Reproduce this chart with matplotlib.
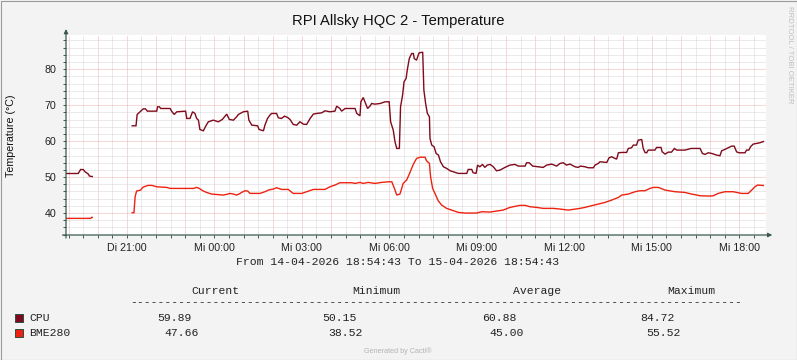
import matplotlib.pyplot as plt
from matplotlib.patches import Rectangle
from matplotlib.ticker import FixedLocator, FixedFormatter, NullFormatter

# time axis: hours since the start of the window (14-04-2026 18:54:43)
START_HOUR = 18 + 54 / 60 + 43 / 3600

title = "RPI Allsky HQC 2 - Temperature"
y_label = "Temperature (°C)"
period_text = "From 14-04-2026 18:54:43 To 15-04-2026 18:54:43"
x_tick_labels = ["Di 21:00", "Mi 00:00", "Mi 03:00", "Mi 06:00", "Mi 09:00", "Mi 12:00", "Mi 15:00", "Mi 18:00"]
x_tick_clock = [21, 24, 27, 30, 33, 36, 39, 42]
y_ticks = [40, 50, 60, 70, 80]

series_names = ["CPU", "BME280"]
stat_names = ["Current", "Minimum", "Average", "Maximum"]
cpu_stats = [59.89, 50.15, 60.88, 84.72]
bme_stats = [47.66, 38.52, 45.00, 55.52]

# (hours since start, °C)
cpu_early = [(0.0, 51.0), (0.42, 51.0), (0.50, 52.1), (0.59, 52.1), (0.65, 51.5),
             (0.77, 50.8), (0.80, 50.3), (0.90, 50.15)]
bme_early = [(0.0, 38.52), (0.85, 38.52), (0.88, 38.8), (0.90, 38.8)]

cpu_main = [
    (2.27, 64.26), (2.40, 64.26), (2.44, 67.41), (2.54, 68.15), (2.65, 68.98), (2.72, 68.98),
    (2.79, 68.33), (3.11, 68.33), (3.14, 69.54), (3.20, 69.54), (3.25, 69.07), (3.57, 69.07),
    (3.62, 68.33), (3.71, 67.41), (3.80, 68.15), (4.10, 68.33), (4.14, 66.30), (4.25, 66.30),
    (4.34, 68.15), (4.42, 67.69), (4.48, 66.30), (4.54, 65.83), (4.59, 63.24), (4.71, 62.87),
    (4.79, 64.17), (4.88, 65.37), (5.05, 65.83), (5.22, 65.37), (5.36, 66.02), (5.51, 67.50),
    (5.60, 66.02), (5.74, 65.83), (5.85, 66.76), (5.91, 67.41), (6.08, 68.15), (6.23, 68.33),
    (6.27, 65.83), (6.37, 64.44), (6.57, 64.26), (6.62, 63.24), (6.77, 62.87), (6.82, 64.44),
    (6.91, 66.30), (6.99, 67.22), (7.05, 67.69), (7.22, 67.69), (7.28, 66.48), (7.39, 66.30),
    (7.49, 66.94), (7.60, 66.57), (7.68, 66.02), (7.79, 64.63), (7.91, 64.44), (8.02, 65.37),
    (8.14, 64.72), (8.25, 64.63), (8.37, 66.30), (8.48, 67.50), (8.59, 67.69), (8.77, 67.87),
    (8.88, 68.43), (9.05, 68.15), (9.22, 68.33), (9.28, 69.72), (9.39, 69.07), (9.45, 68.33),
    (9.57, 69.07), (9.91, 69.07), (9.97, 67.69), (10.08, 67.04), (10.11, 70.93), (10.19, 72.13),
    (10.27, 70.46), (10.34, 69.07), (10.42, 69.72), (10.48, 70.46), (10.59, 70.28), (10.77, 70.46),
    (10.94, 70.93), (11.08, 70.93), (11.13, 65.37), (11.22, 63.06), (11.28, 59.81), (11.34, 57.96),
    (11.43, 57.96), (11.47, 69.54), (11.54, 72.78), (11.59, 76.48), (11.66, 77.41), (11.70, 79.72),
    (11.77, 82.96), (11.85, 84.35), (11.91, 84.35), (11.94, 82.96), (12.02, 82.50), (12.08, 84.00),
    (12.11, 84.54), (12.23, 84.72), (12.27, 74.17), (12.33, 70.46), (12.39, 67.69), (12.46, 66.76),
    (12.48, 60.74), (12.54, 58.89), (12.62, 58.43), (12.69, 56.57), (12.77, 56.11), (12.84, 54.26),
    (12.94, 52.87), (13.05, 52.41), (13.17, 51.76), (13.45, 51.02), (13.74, 51.02), (13.79, 52.13),
    (13.91, 52.13), (13.96, 51.20), (14.06, 51.02), (14.11, 53.33), (14.19, 52.87), (14.28, 53.52),
    (14.36, 52.69), (14.44, 53.33), (14.54, 53.52), (14.65, 52.87), (14.76, 51.76), (14.88, 51.94),
    (15.05, 52.69), (15.22, 53.33), (15.39, 53.52), (15.51, 53.06), (15.74, 53.06), (15.79, 53.98),
    (15.88, 53.98), (16.00, 53.06), (16.19, 52.87), (16.36, 52.69), (16.48, 53.33), (16.65, 53.61),
    (16.82, 53.06), (16.94, 53.80), (17.05, 53.98), (17.16, 53.33), (17.28, 53.61), (17.45, 52.87),
    (17.56, 52.69), (17.64, 53.06), (17.79, 52.87), (17.91, 52.59), (18.08, 52.59), (18.14, 53.33),
    (18.25, 53.80), (18.31, 54.26), (18.54, 54.07), (18.62, 55.37), (18.71, 55.65), (18.82, 55.19),
    (18.88, 55.00), (18.94, 56.76), (19.05, 56.85), (19.22, 56.85), (19.28, 57.96), (19.39, 58.15),
    (19.45, 58.89), (19.56, 58.89), (19.62, 60.28), (19.74, 60.46), (19.79, 57.96), (19.85, 56.85),
    (19.91, 56.76), (19.96, 57.50), (20.19, 57.50), (20.25, 58.24), (20.40, 58.24), (20.44, 57.04),
    (20.54, 56.39), (20.65, 56.94), (20.76, 56.94), (20.86, 57.96), (20.94, 57.50), (21.22, 57.50),
    (21.34, 57.78), (21.43, 57.96), (21.74, 57.96), (21.82, 56.57), (21.91, 56.30), (22.02, 56.76),
    (22.14, 56.57), (22.31, 56.11), (22.42, 55.93), (22.48, 57.31), (22.59, 57.69), (22.73, 58.24),
    (22.82, 58.61), (22.91, 58.61), (22.99, 57.04), (23.07, 56.76), (23.28, 56.76), (23.33, 57.50),
    (23.41, 57.50), (23.47, 58.43), (23.56, 59.17), (23.68, 59.35), (23.79, 59.54), (23.91, 59.89),
]

bme_main = [
    (2.27, 40.09), (2.33, 40.09), (2.37, 44.54), (2.42, 46.11), (2.56, 46.39), (2.63, 47.13),
    (2.74, 47.50), (2.82, 47.69), (2.94, 47.69), (3.11, 47.31), (3.45, 47.13), (3.57, 46.85),
    (4.37, 46.85), (4.48, 47.13), (4.57, 46.85), (4.69, 46.20), (4.82, 45.74), (4.99, 45.28),
    (5.39, 45.00), (5.51, 45.19), (5.62, 45.46), (5.74, 45.28), (5.85, 45.00), (5.97, 45.46),
    (6.02, 45.74), (6.14, 46.20), (6.23, 46.11), (6.31, 45.46), (6.65, 45.46), (6.82, 45.93),
    (6.94, 46.39), (7.11, 46.67), (7.22, 47.04), (7.39, 46.57), (7.62, 46.57), (7.79, 45.46),
    (8.08, 45.46), (8.25, 45.93), (8.48, 46.57), (8.88, 46.57), (9.05, 47.31), (9.22, 47.78),
    (9.39, 48.43), (9.79, 48.43), (9.91, 48.24), (10.08, 48.52), (10.19, 48.24), (10.36, 48.52),
    (10.59, 48.24), (10.82, 48.52), (11.05, 48.70), (11.17, 48.70), (11.26, 46.85), (11.34, 45.00),
    (11.45, 45.28), (11.51, 46.85), (11.56, 48.24), (11.68, 49.17), (11.79, 51.20), (11.91, 53.60),
    (12.02, 55.19), (12.14, 55.52), (12.31, 55.52), (12.36, 54.54), (12.46, 53.80), (12.50, 50.09),
    (12.57, 46.85), (12.65, 45.46), (12.76, 43.43), (12.88, 42.22), (13.05, 41.30), (13.22, 40.83),
    (13.45, 40.19), (13.68, 40.00), (14.08, 40.00), (14.25, 40.37), (14.54, 40.28), (14.76, 40.56),
    (14.99, 40.83), (15.22, 41.57), (15.56, 42.13), (15.74, 42.13), (15.91, 41.76), (16.14, 41.57),
    (16.36, 41.30), (16.71, 41.30), (16.94, 41.11), (17.22, 40.83), (17.39, 41.02), (17.62, 41.30),
    (17.79, 41.57), (18.02, 42.04), (18.25, 42.50), (18.48, 42.96), (18.71, 43.61), (18.94, 44.35),
    (19.05, 45.00), (19.28, 45.28), (19.51, 45.93), (19.68, 46.20), (19.85, 46.20), (20.02, 46.85),
    (20.14, 47.13), (20.31, 47.13), (20.54, 46.39), (20.88, 45.93), (21.22, 45.74), (21.45, 45.28),
    (21.74, 44.81), (22.08, 44.72), (22.19, 44.81), (22.36, 45.46), (22.59, 45.93), (22.88, 45.93),
    (23.16, 45.46), (23.39, 45.46), (23.51, 46.39), (23.62, 47.31), (23.71, 47.78), (23.91, 47.66),
]

W, H = 797, 360
CPU_COLOR = "#7f0a1c"
BME_COLOR = "#ee2211"
AXIS_COLOR = "#3b5a50"
SANS = "Liberation Sans"
MONO = "Liberation Mono"


def px(x, y):
    """pixel position -> figure fraction"""
    return x / W, 1 - y / H


def plot_series(ax, points, color):
    t = [p[0] for p in points]
    v = [p[1] for p in points]
    ax.plot(t, v, color=color, linewidth=1.0, solid_joinstyle="miter")


def draw_chart():
    fig = plt.figure(figsize=(W / 100, H / 100), dpi=100, facecolor="#f3f3f3")
    ax = fig.add_axes([66 / W, 1 - 235 / H, 700 / W, 200 / H])
    ax.set_facecolor("white")
    ax.set_xlim(0, 24)
    ax.set_ylim(33.9, 89.5)

    first_hour = 19 - START_HOUR
    hours = [first_hour + k for k in range(24)]
    halves = [first_hour + 0.5 + k for k in range(24)]
    label_pos = [c - START_HOUR for c in x_tick_clock]
    ax.xaxis.set_major_locator(FixedLocator(hours))
    ax.xaxis.set_minor_locator(FixedLocator(halves))
    ax.xaxis.set_major_formatter(NullFormatter())
    ax.yaxis.set_major_locator(FixedLocator(y_ticks))
    ax.yaxis.set_minor_locator(FixedLocator(list(range(34, 90, 2))))
    ax.yaxis.set_major_formatter(FixedFormatter([str(v) for v in y_ticks]))

    # rrdtool style dotted grid
    ax.grid(which="minor", color="#d6d6d6", linestyle=(0, (1, 1)), linewidth=0.72)
    ax.grid(which="major", color="#f0b2b2", linestyle=(0, (1, 1)), linewidth=0.72)
    ax.set_axisbelow(True)

    ax.tick_params(which="both", direction="out", length=2.5, width=0.7, color=AXIS_COLOR)
    ax.tick_params(axis="y", labelsize=7.7, labelcolor="#222222", pad=4.5)
    for pos, lab in zip(label_pos, x_tick_labels):
        ax.text(pos, -0.04, lab, transform=ax.get_xaxis_transform(), ha="center", va="top",
                fontsize=7.7, family=SANS, color="#222222")
    for lab in ax.get_yticklabels():
        lab.set_family(SANS)
    for s in ax.spines.values():
        s.set_visible(False)

    plot_series(ax, cpu_early, CPU_COLOR)
    plot_series(ax, cpu_main, CPU_COLOR)
    plot_series(ax, bme_early, BME_COLOR)
    plot_series(ax, bme_main, BME_COLOR)

    # axis lines with arrow heads
    arrow = dict(arrowstyle="-|>", color=AXIS_COLOR, lw=0.9, mutation_scale=6,
                 shrinkA=0, shrinkB=0)
    ax.annotate("", xy=(0, 1.03), xytext=(0, -0.015), xycoords="axes fraction",
                arrowprops=arrow, annotation_clip=False)
    ax.annotate("", xy=(1.009, 0), xytext=(-0.005, 0), xycoords="axes fraction",
                arrowprops=arrow, annotation_clip=False)

    fig.text(*px(398, 21), title, ha="center", va="center", fontsize=10.6, family=SANS,
             color="#111111")
    fig.text(*px(11, 136), y_label, ha="center", va="center", rotation=90, fontsize=7.7,
             family=SANS, color="#111111")
    fig.text(*px(398, 262), period_text, ha="center", va="center", fontsize=8.2, family=MONO,
             color="#222222")

    # legend table
    head_x = [215, 376, 537, 691]
    for x, name in zip(head_x, stat_names):
        fig.text(*px(x, 291), name, ha="center", va="center", fontsize=8.2, family=MONO,
                 color="#222222")
    fig.text(*px(436, 302), "-" * 89, ha="center", va="center", fontsize=8.2, family=MONO,
             color="#222222")
    rows = [(318, CPU_COLOR, series_names[0], cpu_stats, [157, 322, 482, 640]),
            (333, BME_COLOR, series_names[1], bme_stats, [164, 328, 489, 646])]
    for y, color, name, stats, xs in rows:
        fig.patches.append(Rectangle(px(15, y + 4), 8 / W, 8 / H, transform=fig.transFigure,
                                     facecolor=color, edgecolor="#2c4d43", linewidth=0.7))
        fig.text(*px(29, y), name, ha="left", va="center", fontsize=8.2, family=MONO,
                 color="#222222")
        for x, val in zip(xs, stats):
            fig.text(*px(x, y), "%.2f" % val, ha="left", va="center", fontsize=8.2,
                     family=MONO, color="#222222")

    fig.text(*px(398, 351), "Generated by Cacti®", ha="center", va="center", fontsize=5.2,
             family=SANS, color="#b4b4b4")
    fig.text(*px(789, 6), "RRDTOOL / TOBI OETIKER", ha="center", va="top", rotation=270,
             fontsize=5.6, family=SANS, color="#c0c0c0")

    fig.patches.append(Rectangle((0.5 / W, 0.5 / H), (W - 1) / W, (H - 1) / H,
                                 transform=fig.transFigure, fill=False,
                                 edgecolor="#9a9a9a", linewidth=0.8))
    fig.savefig("out.png", dpi=100, facecolor=fig.get_facecolor())


def main():
    draw_chart()


if __name__ == "__main__":
    main()
